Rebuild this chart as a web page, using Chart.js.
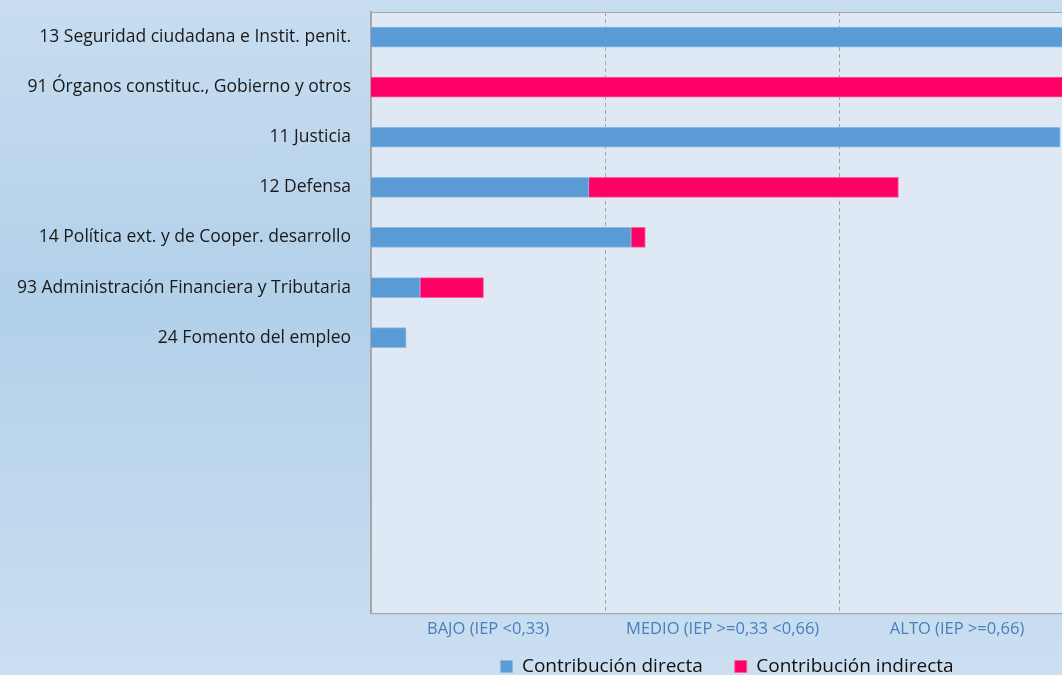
<!DOCTYPE html>
<html>
<head>
<meta charset="utf-8">
<script src="https://cdn.jsdelivr.net/npm/chart.js@4"></script>
<style>
  html, body {
    margin: 0;
    padding: 0;
    width: 1062px;
    height: 675px;
    overflow: hidden;
    background: linear-gradient(to bottom, #c8ddf0 0%, #b2d0e9 45%, #cbdff1 100%);
  }
  canvas { display: block; }
</style>
</head>
<body>
<canvas id="grafico" width="1454" height="675"></canvas>
<script>
// politicas de gasto, de arriba hacia abajo
const categorias = [
  "13 Seguridad ciudadana e Instit. penit.",
  "91 Órganos constituc., Gobierno y otros",
  "11 Justicia",
  "12 Defensa",
  "14 Política ext. y de Cooper. desarrollo",
  "93 Administración Financiera y Tributaria",
  "24 Fomento del empleo",
];
const huecos = ["", "", "", "", ""]; // filas vacias al final del eje

const contribDirecta   = [1.00, 0.00, 0.98, 0.31, 0.37, 0.07, 0.05];
const contribIndirecta = [0.00, 1.00, 0.00, 0.44, 0.02, 0.09, 0.00];

// tramos del IEP
const limitesTramos = [1 / 3, 2 / 3];
const centrosTramos = [1 / 6, 1 / 2, 5 / 6];
const etiquetasTramos = ["BAJO (IEP <0,33)", "MEDIO (IEP >=0,33 <0,66)", "ALTO (IEP >=0,66)"];

const xMax = 1.54;
const fuente = "'Open Sans', sans-serif";

const fondoArea = {
  id: "fondoArea",
  afterLayout(chart) {
    // la leyenda va un poco mas pegada a las etiquetas del eje
    chart.legend.top -= 20;
    chart.legend.bottom -= 20;
  },
  beforeDraw(chart) {
    const { ctx, chartArea: a } = chart;
    ctx.save();
    ctx.fillStyle = "#dee9f5";
    ctx.fillRect(a.left, a.top, a.right - a.left, a.bottom - a.top);
    ctx.strokeStyle = "#a6a6a6";
    ctx.lineWidth = 1;
    ctx.strokeRect(a.left + 0.5, a.top + 0.5, a.right - a.left, a.bottom - a.top);
    ctx.restore();
  },
};

new Chart(document.getElementById("grafico").getContext("2d"), {
  type: "bar",
  data: {
    labels: categorias.concat(huecos),
    datasets: [
      {
        label: "Contribución directa",
        data: contribDirecta,
        backgroundColor: "#5b9bd5",
        borderColor: "#8cbbe6",
        borderWidth: 1,
        barThickness: 20,
      },
      {
        label: "Contribución indirecta",
        data: contribIndirecta,
        backgroundColor: "#ff0066",
        borderColor: "#ff5c9a",
        borderWidth: 1,
        barThickness: 20,
      },
    ],
  },
  options: {
    indexAxis: "y",
    animation: false,
    responsive: false,
    layout: { padding: { top: 12, right: 0, bottom: -31, left: 0 } },
    plugins: {
      tooltip: { enabled: false },
      legend: {
        position: "bottom",
        labels: {
          boxWidth: 12,
          boxHeight: 12,
          padding: 32,
          color: "#111111",
          font: { family: fuente, size: 19 },
        },
      },
    },
    scales: {
      x: {
        stacked: true,
        min: 0,
        max: xMax,
        afterBuildTicks(scale) {
          scale.ticks = centrosTramos.concat(limitesTramos)
            .sort((a, b) => a - b)
            .map((v) => ({ value: v }));
        },
        ticks: {
          autoSkip: false,
          maxRotation: 0,
          padding: 6,
          color: "#4a7ebb",
          font: { family: fuente, size: 16.5 },
          callback(value) {
            const i = centrosTramos.findIndex((c) => Math.abs(c - value) < 1e-6);
            return i >= 0 ? etiquetasTramos[i] : "";
          },
        },
        grid: {
          drawTicks: false,
          lineWidth: 1,
          color(ctx) {
            const v = ctx.tick ? ctx.tick.value : null;
            return limitesTramos.some((l) => Math.abs(l - v) < 1e-6) ? "#a6a6a6" : "rgba(0,0,0,0)";
          },
        },
        border: { display: true, color: "#a6a6a6", width: 1, dash: [4, 3] },
      },
      y: {
        stacked: true,
        afterFit(scale) {
          scale.width = 371;
          scale.paddingTop = 0;
          scale.paddingBottom = 0;
        },
        ticks: {
          autoSkip: false,
          padding: 20,
          color: "#1a1a1a",
          font: { family: fuente, size: 17.5 },
        },
        grid: { display: false, drawTicks: false },
        border: { display: true, color: "#a6a6a6", width: 2 },
      },
    },
  },
  plugins: [fondoArea],
});
</script>
</body>
</html>
